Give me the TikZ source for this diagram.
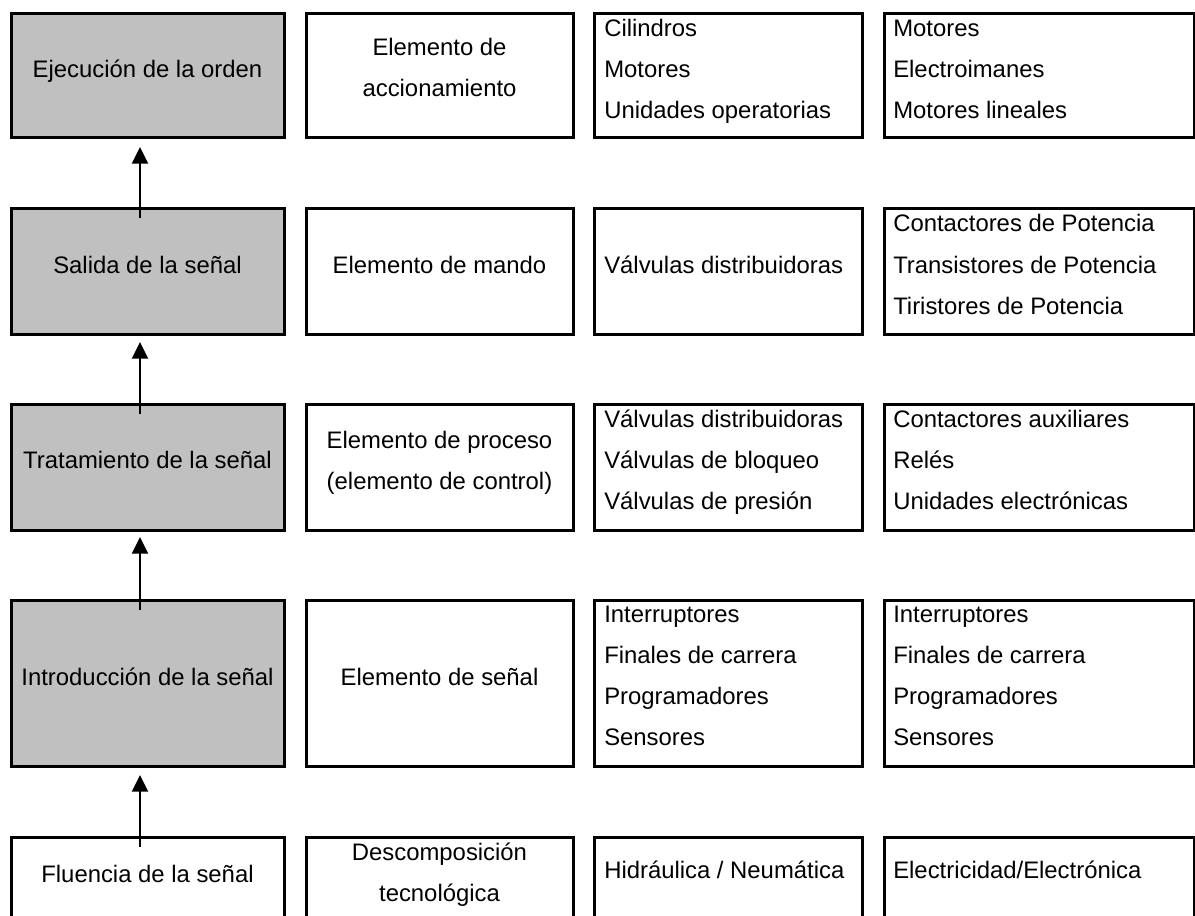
\documentclass[tikz,border=0pt]{standalone}
\usepackage{fontspec}
\setmainfont{Liberation Sans}
\usetikzlibrary{fit,arrows.meta}
\definecolor{boxgray}{RGB}{192,192,192}
\begin{document}
\begin{tikzpicture}[x=0.75pt,y=-0.75pt,
  box/.style={draw=black, line width=2.25pt, inner sep=0pt, outer sep=0pt, fill=white},
  graybox/.style={box, fill=boxgray},
  lbl/.style={font=\fontsize{17.9pt}{21pt}\selectfont, inner sep=0pt, text=black},
  flow/.style={-{Triangle[length=12.5pt,width=12pt]}, line width=1.65pt, draw=black},
]
\useasboundingbox (0,0) rectangle (1195,916);
\clip (0,0) rectangle (1195,916);
\fill[white] (0,0) rectangle (1195,916);

% boxes: column 1
\node[graybox, fit={(11,14)(284,138)}]  (r1c1) {};
\node[graybox, fit={(11,209)(284,334)}] (r2c1) {};
\node[graybox, fit={(11,404)(284,530)}] (r3c1) {};
\node[graybox, fit={(11,600)(284,766)}] (r4c1) {};
\node[box,     fit={(11,837)(284,920)}] (r5c1) {};
% column 2
\node[box, fit={(306,14)(573,138)}]  (r1c2) {};
\node[box, fit={(306,209)(573,334)}] (r2c2) {};
\node[box, fit={(306,404)(573,530)}] (r3c2) {};
\node[box, fit={(306,600)(573,766)}] (r4c2) {};
\node[box, fit={(306,837)(573,920)}] (r5c2) {};
% column 3
\node[box, fit={(594,14)(862,138)}]  (r1c3) {};
\node[box, fit={(594,209)(862,334)}] (r2c3) {};
\node[box, fit={(594,404)(862,530)}] (r3c3) {};
\node[box, fit={(594,600)(862,766)}] (r4c3) {};
\node[box, fit={(594,837)(862,920)}] (r5c3) {};
% column 4
\node[box, fit={(884,14)(1194,138)}]  (r1c4) {};
\node[box, fit={(884,209)(1194,334)}] (r2c4) {};
\node[box, fit={(884,404)(1194,530)}] (r3c4) {};
\node[box, fit={(884,600)(1194,766)}] (r4c4) {};
\node[box, fit={(884,837)(1194,920)}] (r5c4) {};

% column 1 texts
\node[lbl,anchor=base] (t1c1) at (147.5,78)  {Ejecución de la orden};
\node[lbl,anchor=base] (t2c1) at (147.5,273) {Salida de la señal};
\node[lbl,anchor=base] (t3c1) at (147.5,468) {Tratamiento de la señal};
\node[lbl,anchor=base] (t4c1) at (147.5,685) {Introducción de la señal};
\node[lbl,anchor=base] (t5c1) at (147.5,882) {Fluencia de la señal};

% column 2 texts
\node[lbl,anchor=base] (t1c2a) at (439.5,56)  {Elemento de};
\node[lbl,anchor=base] (t1c2b) at (439.5,97)  {accionamiento};
\node[lbl,anchor=base] (t2c2)  at (439.5,273) {Elemento de mando};
\node[lbl,anchor=base] (t3c2a) at (439.5,448) {Elemento de proceso};
\node[lbl,anchor=base] (t3c2b) at (439.5,489) {(elemento de control)};
\node[lbl,anchor=base] (t4c2)  at (439.5,685) {Elemento de señal};
\node[lbl,anchor=base] (t5c2a) at (439.5,860) {Descomposición};
\node[lbl,anchor=base] (t5c2b) at (439.5,901) {tecnológica};

% column 3 texts
\foreach \txt [count=\i from 0] in {Cilindros,Motores,Unidades operatorias}
  \node[lbl,anchor=base west] (t1c3-\i) at (604,{37+41*\i}) {\txt};
\node[lbl,anchor=base west] (t2c3) at (604,273) {Válvulas distribuidoras};
\foreach \txt [count=\i from 0] in {Válvulas distribuidoras,Válvulas de bloqueo,Válvulas de presión}
  \node[lbl,anchor=base west] (t3c3-\i) at (604,{427+41*\i}) {\txt};
\foreach \txt [count=\i from 0] in {Interruptores,Finales de carrera,Programadores,Sensores}
  \node[lbl,anchor=base west] (t4c3-\i) at (604,{622+41*\i}) {\txt};
\node[lbl,anchor=base west] (t5c3) at (604,878) {Hidráulica / Neumática};

% column 4 texts
\foreach \txt [count=\i from 0] in {Motores,Electroimanes,Motores lineales}
  \node[lbl,anchor=base west] (t1c4-\i) at (893,{37+41*\i}) {\txt};
\foreach \txt [count=\i from 0] in {Contactores de Potencia,Transistores de Potencia,Tiristores de Potencia}
  \node[lbl,anchor=base west] (t2c4-\i) at (893,{232+41*\i}) {\txt};
\foreach \txt [count=\i from 0] in {Contactores auxiliares,Relés,Unidades electrónicas}
  \node[lbl,anchor=base west] (t3c4-\i) at (893,{427+41*\i}) {\txt};
\foreach \txt [count=\i from 0] in {Interruptores,Finales de carrera,Programadores,Sensores}
  \node[lbl,anchor=base west] (t4c4-\i) at (893,{622+41*\i}) {\txt};
\node[lbl,anchor=base west] (t5c4) at (893,878) {Electricidad/Electrónica};

% arrows
\draw[flow] ([xshift=-5.625pt,yshift=-6.75pt]r2c1.north) -- ([xshift=-5.625pt,yshift=-6.75pt]r1c1.south);
\draw[flow] ([xshift=-5.625pt,yshift=-7.5pt]r3c1.north) -- ([xshift=-5.625pt,yshift=-6pt]r2c1.south);
\draw[flow] ([xshift=-5.625pt,yshift=-7.5pt]r4c1.north) -- ([xshift=-5.625pt,yshift=-5.25pt]r3c1.south);
\draw[flow] ([xshift=-5.625pt,yshift=-7.5pt]r5c1.north) -- ([xshift=-5.625pt,yshift=-6.75pt]r4c1.south);
\end{tikzpicture}
\end{document}
